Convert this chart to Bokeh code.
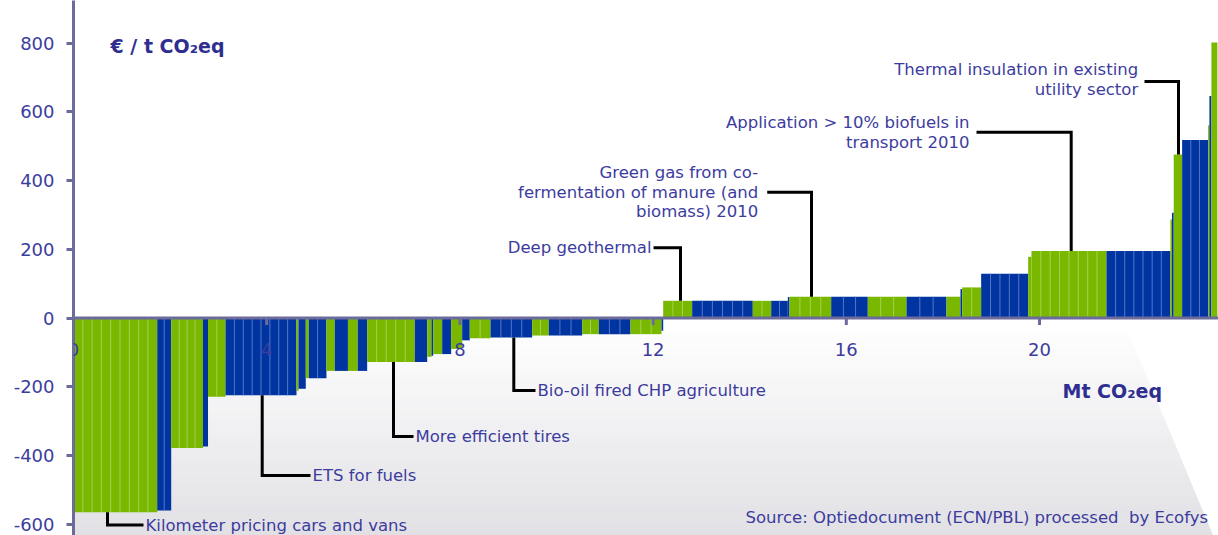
import numpy as np
from bokeh.plotting import figure
from bokeh.models import Range1d, Span, FixedTicker, ColumnDataSource, Label
from bokeh.core.properties import value
from bokeh.embed import file_html
from bokeh.resources import INLINE

# ---------------- data ----------------
# colour group of each block of measures: G = green, B = blue
groups = ["G", "B", "G", "B", "G", "B", "G", "B", "G", "B",
          "G", "B", "G", "B", "G", "B", "G", "B", "G", "B",
          "G", "B", "G", "B", "G", "B", "G", "B", "G", "B",
          "G", "B", "G", "B", "B", "G", "B", "G", "B", "G",
          "B", "G", "B", "G", "G", "B", "G", "B", "G", "B",
          "G", "B", "G"]
# abatement potential (Mt CO2eq) of each block
potential = [1.733, 0.290, 0.658, 0.104, 0.362, 1.470, 0.041, 0.151, 0.062, 0.366,
             0.172, 0.273, 0.203, 0.195, 0.986, 0.257, 0.089, 0.035, 0.186, 0.186,
             0.228, 0.157, 0.429, 0.863, 0.344, 0.692, 0.344, 0.656, 0.642, 0.035,
             0.600, 1.255, 0.381, 0.344, 0.035, 0.863, 0.758, 0.801, 0.828, 0.290,
             0.035, 0.393, 0.973, 0.068, 1.553, 1.325, 0.031, 0.037, 0.174, 0.538,
             0.027, 0.041, 0.124]
# cost (EUR / t CO2eq) of each block
cost = [-565, -560, -378, -374, -229, -225, -212, -206, -175, -175,
        -154, -154, -154, -154, -128, -128, -113, -110, -105, -105,
        -90, -65, -59, -57, -51, -51, -47, -47, -47, -37,
        50, 50, 50, 50, 61, 62, 62, 62, 62, 62,
        84, 89, 129, 178, 195, 195, 287, 306, 476, 518,
        561, 646, 802]
# number of individual measures inside each block
measures = [9, 2, 4, 1, 2, 8, 1, 1, 1, 2,
            1, 1, 1, 1, 5, 1, 1, 1, 1, 1,
            1, 1, 2, 4, 2, 3, 2, 3, 3, 1,
            3, 6, 2, 2, 1, 4, 3, 3, 3, 1,
            1, 2, 5, 1, 8, 7, 1, 1, 1, 3,
            1, 1, 1]

x_ticks = [0, 4, 8, 12, 16, 20]
y_ticks = [-600, -400, -200, 0, 200, 400, 600, 800]
y_title = "€ / t CO₂eq"
x_title = "Mt CO₂eq"
source_note = "Source: Optiedocument (ECN/PBL) processed\u00a0 by Ecofys"

# callouts: text lines, index of the block pointed at
callouts_below = [
    ("Kilometer pricing cars and vans", 0),
    ("ETS for fuels", 5),
    ("More efficient tires", 14),
    ("Bio-oil fired CHP agriculture", 23),
]
callouts_above = [
    (["Deep geothermal"], 30),
    (["Green gas from co-", "fermentation of manure (and", "biomass) 2010"], 35),
    (["Application > 10% biofuels in", "transport 2010"], 44),
    (["Thermal insulation in existing", "utility sector"], 48),
]

# ---------------- styling ----------------
GREEN = "#7ab800"
BLUE = "#0034a0"
GREEN_LINE = "#a3d056"
BLUE_LINE = "#5577c8"
AXIS = "#6b6b9c"
TXT = "#3c3c9e"
TITLE = "#2e2e90"
FONT = "DejaVu Sans"

ORIGIN = 0                       # page px of the figure's top-left corner
X0_PX, X_SCALE = 73.0, 48.3      # page px of x=0, px per Mt
Y0_PX, Y_SCALE = 317.5, 0.3436   # page px of y=0, px per EUR
W, H = 1218, 535


def px2x(px):
    return (px - X0_PX) / X_SCALE


def px2y(py):
    return (Y0_PX - py) / Y_SCALE


x_end = px2x(ORIGIN + W)
y_top = px2y(ORIGIN)
y_bot = px2y(ORIGIN + H)

p = figure(width=W, height=H, x_range=Range1d(0, x_end), y_range=Range1d(y_bot, y_top),
           output_backend="svg", toolbar_location=None, x_axis_location=None,
           min_border_left=int(X0_PX - ORIGIN), min_border_right=0,
           min_border_top=0, min_border_bottom=0)
p.grid.visible = False
p.outline_line_color = None
p.background_fill_color = "white"
p.border_fill_color = "white"

# ---------- perspective floor (decoration, gradient) ----------
n_strips = 40
py_a, py_b = 322.0, 535.0
fxs, fys, fcols = [], [], []
for i in range(n_strips):
    t0 = py_a + (py_b - py_a) * i / n_strips
    t1 = py_a + (py_b - py_a) * (i + 1) / n_strips
    lx0 = 75 - 0.417 * (t0 - 427)
    lx1 = 75 - 0.417 * (t1 - 427)
    rx0 = 1160 + 0.417 * (t0 - 410)
    rx1 = 1160 + 0.417 * (t1 - 410)
    fxs.append([px2x(lx0), px2x(rx0), px2x(rx1), px2x(lx1)])
    fys.append([px2y(t0), px2y(t0), px2y(t1), px2y(t1)])
    f = (i + 0.5) / n_strips
    r = int(round(255 - f * 30))
    b = int(round(255 - f * 26))
    fcols.append("#%02x%02x%02x" % (r, r, b))
p.patches(fxs, fys, fill_color=fcols, line_color=fcols, line_width=1)

# ---------- bars ----------
w = np.array(potential)
c = np.array(cost, dtype=float)
right = np.cumsum(w)
left = right - w
cols = [GREEN if g == "G" else BLUE for g in groups]
src = ColumnDataSource(dict(left=left, right=right, top=np.maximum(c, 0),
                            bottom=np.minimum(c, 0), color=cols))
p.quad(left="left", right="right", top="top", bottom="bottom", fill_color="color",
       line_color=None, source=src)

# separators between individual measures inside a block
sx, sy0, sy1, scol = [], [], [], []
for l, ww, cc, n, g in zip(left, w, c, measures, groups):
    for k in range(1, n):
        sx.append(l + ww * k / n)
        sy0.append(0)
        sy1.append(cc)
        scol.append(GREEN_LINE if g == "G" else BLUE_LINE)
p.segment(x0=sx, y0=sy0, x1=sx, y1=sy1, line_color=scol, line_width=1)

# ---------- x axis at y = 0 ----------
p.add_layout(Span(location=0, dimension="width", line_color=AXIS, line_width=3))
tick_len = 7 / Y_SCALE
p.segment(x0=x_ticks[1:], y0=[0] * 5, x1=x_ticks[1:], y1=[-tick_len] * 5,
          line_color=AXIS, line_width=3)
for t in x_ticks:
    p.add_layout(Label(x=t, y=px2y(349), text=str(t), text_align="center",
                       text_baseline="middle", text_font=FONT, text_font_size="18px",
                       text_color=TXT))

# ---------- y axis ----------
ya = p.yaxis[0]
ya.ticker = FixedTicker(ticks=y_ticks)
ya.major_label_overrides = {t: str(t) for t in y_ticks}
ya.axis_line_color = AXIS
ya.axis_line_width = 3
ya.major_tick_line_color = AXIS
ya.major_tick_line_width = 3
ya.major_tick_out = 7
ya.major_tick_in = 0
ya.minor_tick_out = 0
ya.minor_tick_in = 0
ya.major_label_standoff = 12
ya.major_label_text_font = FONT
ya.major_label_text_font_size = "18px"
ya.major_label_text_color = TXT

# ---------- titles ----------
p.text(x=[px2x(110)], y=[px2y(45)], text=[y_title], text_font=value(FONT),
       text_font_size="19px", text_font_style="bold", text_color=TITLE,
       text_baseline="middle", text_align="left")
p.text(x=[px2x(1062)], y=[px2y(390)], text=[x_title], text_font=value(FONT),
       text_font_size="19px", text_font_style="bold", text_color=TITLE,
       text_baseline="middle", text_align="left")
p.text(x=[px2x(745)], y=[px2y(517)], text=[source_note], text_font=value(FONT),
       text_font_size="16.5px", text_color=TXT, text_baseline="middle", text_align="left")

# ---------- callouts ----------
FS = "16.5px"
below_geom = [(107, 524.5, 143), (261.7, 475, 310), (393, 436, 413), (513.3, 390, 535)]
lx, ly = [], []
for (txt, idx), (vx, hy, hx) in zip(callouts_below, below_geom):
    lx.append([px2x(vx), px2x(vx), px2x(hx)])
    ly.append([cost[idx], px2y(hy), px2y(hy)])
    p.text(x=[px2x(hx + 2)], y=[px2y(hy)], text=[txt], text_font=value(FONT),
           text_font_size=FS, text_color=TXT, text_baseline="middle",
           text_align="left")

above_geom = [(680, 247.3, 653, 651, [247.3]),
              (811, 191.7, 766.7, 757.7, [171.7, 191.7, 211.3]),
              (1070.7, 131.7, 976, 969, [121.5, 141.5]),
              (1178, 81, 1144, 1137.7, [68.5, 88.5])]
for (lines, idx), (vx, hy, hx0, tx, tys) in zip(callouts_above, above_geom):
    lx.append([px2x(hx0), px2x(vx), px2x(vx)])
    ly.append([px2y(hy), px2y(hy), cost[idx]])
    p.text(x=[px2x(tx)] * len(lines), y=[px2y(v) for v in tys], text=lines,
           text_font=value(FONT), text_font_size=FS, text_color=TXT,
           text_baseline="middle", text_align="right")

p.multi_line(xs=lx, ys=ly, line_color="black", line_width=3, line_join="miter")

open("out.html", "w").write(file_html(p, INLINE))
